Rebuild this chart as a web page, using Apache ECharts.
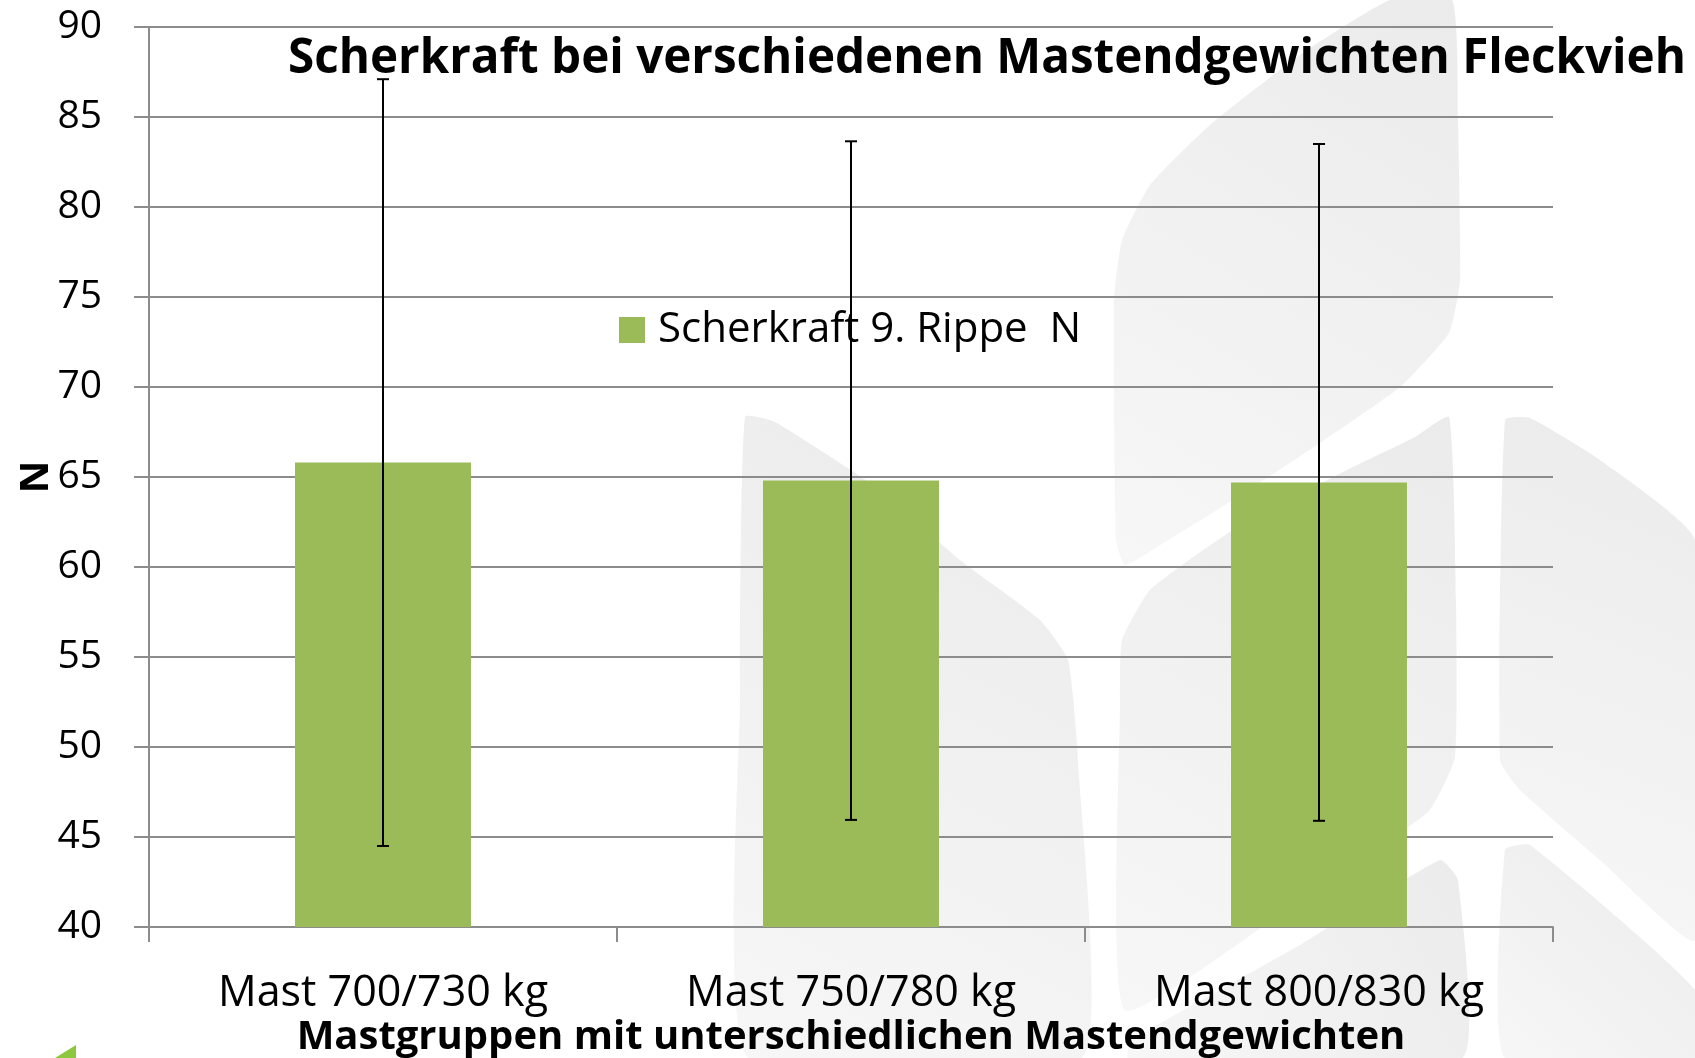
<!DOCTYPE html>
<html>
<head>
<meta charset="utf-8">
<script src="https://cdn.jsdelivr.net/npm/echarts@6/dist/echarts.min.js"></script>
<style>
  html, body { margin: 0; padding: 0; background: #fff; }
  #chart { width: 1695px; height: 1058px; }
</style>
</head>
<body>
<div id="chart"></div>
<script>
const categories = ['Mast 700/730 kg', 'Mast 750/780 kg', 'Mast 800/830 kg'];
const meanValues = [65.8, 64.8, 64.7];
const sdValues = [21.3, 18.85, 18.8];
const yTicks = { min: 40, max: 90, step: 5 };

const seriesName = 'Scherkraft 9. Rippe  N';
const font = "'Open Sans', 'Noto Sans', sans-serif";

// watermark leaves in the background (decoration only)
const shade = {
  type: 'linear', x: 1, y: 0, x2: 0, y2: 1,
  colorStops: [{ offset: 0, color: '#ebebeb' }, { offset: 1, color: '#f7f7f7' }]
};
const leafShapes = [
  [[1390,0],[1452,0],[1458,120],[1460,280],[1449,333],[1400,387],[1320,443],[1233,500],[1157,547],[1125,565],[1116,540],[1114,300],[1122,240],[1150,185],[1210,125],[1300,55]],
  [[745,417],[775,422],[880,490],[960,560],[1040,620],[1068,660],[1078,760],[1082,1058],[748,1058],[740,700]],
  [[1449,417],[1456,600],[1455,757],[1428,812],[1300,900],[1125,1010],[1120,700],[1122,640],[1150,590],[1233,530],[1347,470],[1415,437]],
  [[1128,1058],[1132,1040],[1300,945],[1440,860],[1458,880],[1462,1058]],
  [[1505,420],[1530,418],[1600,460],[1695,540],[1695,940],[1600,860],[1520,790],[1500,760]],
  [[1505,850],[1530,845],[1695,990],[1695,1058],[1505,1058]]
];

const chart = echarts.init(document.getElementById('chart'), null, { renderer: 'canvas' });

const errorData = categories.map((c, i) => [i, meanValues[i] + sdValues[i], meanValues[i] - sdValues[i]]);

const option = {
  backgroundColor: '#fff',
  animation: false,
  textStyle: { fontFamily: font },
  title: {
    text: 'Scherkraft bei verschiedenen Mastendgewichten Fleckvieh',
    left: 288,
    top: 35,
    padding: 0,
    textStyle: { fontFamily: font, fontSize: 47.6, fontWeight: 'bold', color: '#000' }
  },
  legend: {
    data: [seriesName],
    left: 619,
    top: 309,
    padding: 0,
    icon: 'rect',
    itemWidth: 26,
    itemHeight: 26,
    itemGap: 10,
    textStyle: { fontFamily: font, fontSize: 42, color: '#000', padding: [0, 0, 0, 8] }
  },
  graphic: leafShapes.map(pts => ({
    type: 'polygon',
    z: -10,
    silent: true,
    shape: { points: pts, smooth: 0.15 },
    style: { fill: shade }
  })).concat([{
    type: 'polygon',
    z: -10,
    silent: true,
    shape: { points: [[55,1058],[76,1045],[76,1058]] },
    style: { fill: '#8dc63f' }
  }]),
  grid: { left: 149, right: 142, top: 27, bottom: 131, outerBoundsMode: 'none', containLabel: false },
  xAxis: {
    type: 'category',
    data: categories,
    name: 'Mastgruppen mit unterschiedlichen Mastendgewichten',
    nameLocation: 'middle',
    nameGap: 91,
    nameMoveOverlap: false,
    nameTextStyle: { fontFamily: font, fontSize: 40, fontWeight: 'bold', color: '#000' },
    axisLine: { lineStyle: { color: '#8c8c8c', width: 2 } },
    axisTick: { show: true, length: 15, lineStyle: { color: '#8c8c8c', width: 2 } },
    axisLabel: { fontFamily: font, fontSize: 43, color: '#000', margin: 45 }
  },
  yAxis: {
    type: 'value',
    min: yTicks.min,
    max: yTicks.max,
    interval: yTicks.step,
    name: 'N',
    nameLocation: 'middle',
    nameRotate: 90,
    nameGap: 92,
    nameMoveOverlap: false,
    nameTextStyle: { fontFamily: font, fontSize: 40, fontWeight: 'bold', color: '#000' },
    axisLine: { show: true, lineStyle: { color: '#8c8c8c', width: 2 } },
    axisTick: { show: true, length: 15, lineStyle: { color: '#8c8c8c', width: 2 } },
    axisLabel: { fontFamily: font, fontSize: 39, color: '#000', margin: 47 },
    splitLine: { lineStyle: { color: '#8c8c8c', width: 2 } }
  },
  series: [
    {
      name: seriesName,
      type: 'bar',
      data: meanValues,
      barWidth: 176,
      itemStyle: { color: '#9bbb59' }
    },
    {
      name: 'SD',
      type: 'custom',
      data: errorData,
      encode: { x: 0, y: [1, 2] },
      z: 5,
      renderItem: function (params, api) {
        const i = api.value(0);
        const top = api.coord([i, api.value(1)]);
        const bot = api.coord([i, api.value(2)]);
        const cap = 6;
        const st = { stroke: '#000', lineWidth: 2 };
        return {
          type: 'group',
          children: [
            { type: 'line', shape: { x1: top[0], y1: top[1], x2: bot[0], y2: bot[1] }, style: st },
            { type: 'line', shape: { x1: top[0] - cap, y1: top[1], x2: top[0] + cap, y2: top[1] }, style: st },
            { type: 'line', shape: { x1: bot[0] - cap, y1: bot[1], x2: bot[0] + cap, y2: bot[1] }, style: st }
          ]
        };
      }
    }
  ]
};

chart.setOption(option);
</script>
</body>
</html>
